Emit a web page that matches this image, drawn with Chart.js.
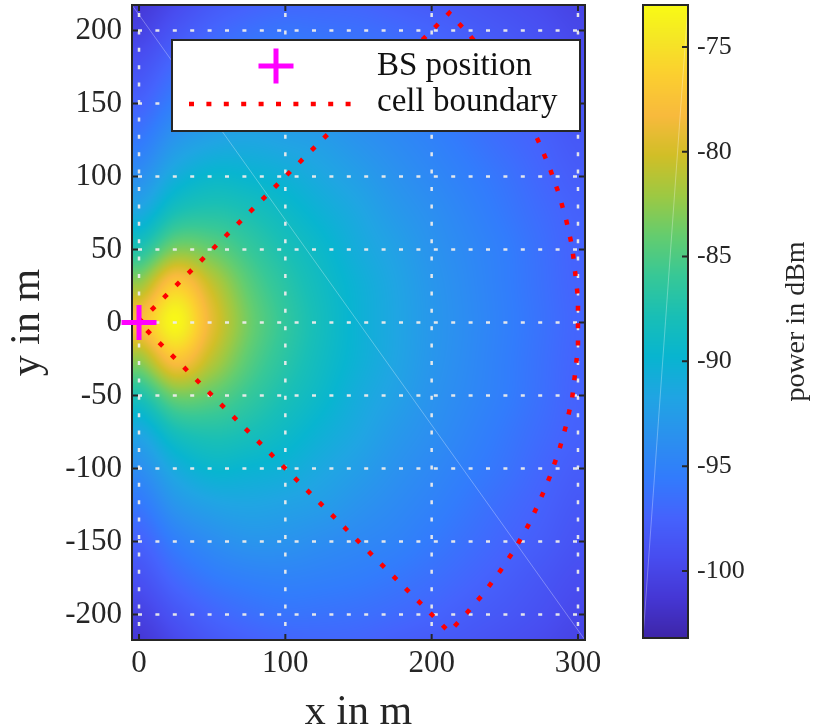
<!DOCTYPE html>
<html>
<head>
<meta charset="utf-8">
<title>BS power map</title>
<script src="https://cdn.jsdelivr.net/npm/chart.js@4.4.1/dist/chart.umd.min.js"></script>
<style>
  html, body { margin: 0; padding: 0; background: #fff; overflow: hidden; }
  #wrap { position: relative; width: 817px; height: 724px; }
  #main { position: absolute; left: 0; top: 0; }
  #cbar { position: absolute; left: 600px; top: 0; }
</style>
</head>
<body>
<div id="wrap">
  <canvas id="main" width="600" height="740"></canvas>
  <canvas id="cbar" width="217" height="740"></canvas>
</div>
<script>
// axes
const xTicks = [0, 100, 200, 300];
const yTicks = [-200, -150, -100, -50, 0, 50, 100, 150, 200];
const cbTicks = [-100, -95, -90, -85, -80, -75];
const xRange = [-4.8, 304.8];
const yRange = [-217.5, 217.5];
const powerRange = [-103.2, -73];

// BS position
const bsX = [0];
const bsY = [0];

// cell boundary
const boundaryX = [0, 212, 224, 236, 247, 257, 266, 274, 281, 287, 292, 296, 298, 300, 300,
  300, 298, 296, 292, 287, 281, 274, 266, 257, 247, 236, 224, 212, 0];
const boundaryY = [0, 212, 199, 185, 170, 155, 139, 122, 105, 88, 70, 52, 35, 17, 0,
  -17, -35, -52, -70, -88, -105, -122, -139, -155, -170, -185, -199, -212, 0];

// received power in dBm, sampled every 25 m
const gridX = [0, 25, 50, 75, 100, 125, 150, 175, 200, 225, 250, 275, 300];
const gridY = [225, 200, 175, 150, 125, 100, 75, 50, 25, 0, -25, -50, -75, -100, -125, -150, -175, -200, -225];
const power = [
  [-101.4, -99.9, -98.6, -97.9, -97.5, -97.4, -97.5, -98.0, -98.4, -98.7, -99.2, -99.7, -100.3],
  [-100.3, -98.6, -97.3, -96.5, -96.1, -96.3, -96.5, -96.9, -97.4, -98.0, -98.5, -99.1, -99.8],
  [-98.9, -96.9, -95.6, -95.0, -94.9, -95.1, -95.4, -95.9, -96.5, -97.2, -97.9, -98.6, -99.3],
  [-97.5, -95.2, -93.9, -93.2, -93.4, -93.9, -94.4, -94.9, -95.7, -96.5, -97.3, -98.0, -98.8],
  [-95.8, -93.1, -91.9, -91.6, -92.0, -92.5, -93.4, -94.2, -95.0, -95.9, -96.8, -97.6, -98.4],
  [-93.8, -90.8, -89.5, -89.8, -90.4, -91.4, -92.4, -93.5, -94.4, -95.3, -96.2, -97.2, -98.0],
  [-91.3, -87.8, -87.1, -87.8, -89.0, -90.3, -91.5, -92.8, -93.8, -94.8, -95.8, -96.8, -97.6],
  [-87.3, -83.1, -84.0, -86.0, -87.8, -89.3, -90.9, -92.1, -93.4, -94.4, -95.4, -96.5, -97.5],
  [-82.0, -76.6, -80.6, -84.4, -86.8, -88.7, -90.3, -91.7, -93.1, -94.2, -95.3, -96.4, -97.4],
  [-78.0, -73.3, -79.2, -83.6, -86.3, -88.4, -90.2, -91.6, -93.0, -94.1, -95.2, -96.3, -97.3],
  [-82.4, -77.4, -81.0, -84.5, -86.8, -88.7, -90.3, -91.7, -93.1, -94.2, -95.3, -96.4, -97.4],
  [-87.6, -83.6, -84.3, -86.1, -87.8, -89.3, -90.9, -92.1, -93.4, -94.4, -95.4, -96.5, -97.5],
  [-91.5, -88.1, -87.3, -87.9, -89.0, -90.3, -91.5, -92.8, -93.8, -94.8, -95.8, -96.8, -97.6],
  [-93.9, -91.0, -89.6, -89.9, -90.4, -91.4, -92.4, -93.5, -94.4, -95.3, -96.2, -97.2, -98.0],
  [-95.9, -93.2, -92.0, -91.7, -92.0, -92.5, -93.4, -94.2, -95.0, -95.9, -96.8, -97.6, -98.4],
  [-97.6, -95.3, -94.0, -93.3, -93.4, -93.9, -94.4, -94.9, -95.7, -96.5, -97.3, -98.0, -98.8],
  [-99.0, -97.0, -95.7, -95.1, -94.9, -95.1, -95.4, -95.9, -96.5, -97.2, -97.9, -98.6, -99.3],
  [-100.4, -98.7, -97.4, -96.6, -96.2, -96.3, -96.5, -96.9, -97.4, -98.0, -98.5, -99.1, -99.8],
  [-101.5, -100.0, -98.7, -98.0, -97.6, -97.4, -97.5, -98.0, -98.4, -98.7, -99.2, -99.7, -100.3]
];

// parula anchors: [index of 64, r, g, b]
const parula = [
  [0, 62, 38, 168], [4, 69, 55, 213], [8, 72, 77, 240], [12, 69, 99, 253],
  [16, 50, 124, 252], [20, 43, 145, 239], [24, 32, 165, 227], [28, 8, 181, 208],
  [32, 25, 191, 182], [36, 55, 200, 151], [40, 100, 205, 111], [44, 157, 201, 67],
  [48, 209, 191, 39], [52, 248, 186, 61], [56, 252, 207, 48], [60, 245, 233, 36],
  [63, 249, 251, 21]
];

const serif = "'Liberation Serif', 'DejaVu Serif', serif";
const axisColor = '#262626';

function colorAt(v) {
  let t = (v - powerRange[0]) / (powerRange[1] - powerRange[0]);
  t = Math.max(0, Math.min(1, t)) * 63;
  let k = 0;
  while (k < parula.length - 2 && parula[k + 1][0] < t) k++;
  const a = parula[k], b = parula[k + 1];
  const f = (t - a[0]) / (b[0] - a[0]);
  return [a[1] + (b[1] - a[1]) * f, a[2] + (b[2] - a[2]) * f, a[3] + (b[3] - a[3]) * f];
}

function cubic(p0, p1, p2, p3, t) {
  return p1 + 0.5 * t * (p2 - p0 + t * (2 * p0 - 5 * p1 + 4 * p2 - p3 + t * (3 * (p1 - p2) + p3 - p0)));
}

function samplePower(vx, vy) {
  const nx = gridX.length, ny = gridY.length;
  let fx = (vx - gridX[0]) / (gridX[1] - gridX[0]);
  let fy = (vy - gridY[0]) / (gridY[1] - gridY[0]);
  fx = Math.max(0, Math.min(nx - 1, fx));
  fy = Math.max(0, Math.min(ny - 1, fy));
  const i = Math.min(nx - 2, Math.floor(fx)), j = Math.min(ny - 2, Math.floor(fy));
  const tx = fx - i, ty = fy - j;
  const col = c => Math.max(0, Math.min(nx - 1, c));
  const row = r => power[Math.max(0, Math.min(ny - 1, r))];
  const rows = [];
  for (let r = j - 1; r <= j + 2; r++) {
    const p = row(r);
    rows.push(cubic(p[col(i - 1)], p[col(i)], p[col(i + 1)], p[col(i + 2)], tx));
  }
  return cubic(rows[0], rows[1], rows[2], rows[3], ty);
}

// keep chart areas where they are, no room reserved for half labels
const noEdgePadding = s => {
  s.paddingTop = 0; s.paddingBottom = 0; s.paddingLeft = 0; s.paddingRight = 0;
};

const heatmapPlugin = {
  id: 'heatmap',
  beforeDatasetsDraw(chart) {
    const { ctx, chartArea: a, scales: { x, y } } = chart;
    const left = Math.round(a.left), top = Math.round(a.top);
    const w = Math.round(a.right) - left, h = Math.round(a.bottom) - top;
    const img = ctx.createImageData(w, h);
    const xs = [];
    for (let i = 0; i < w; i++) xs.push(x.getValueForPixel(left + i + 0.5));
    for (let j = 0; j < h; j++) {
      const vy = y.getValueForPixel(top + j + 0.5);
      for (let i = 0; i < w; i++) {
        const c = colorAt(samplePower(xs[i], vy));
        const k = (j * w + i) * 4;
        img.data[k] = c[0]; img.data[k + 1] = c[1]; img.data[k + 2] = c[2]; img.data[k + 3] = 255;
      }
    }
    ctx.putImageData(img, left, top);

    ctx.save();
    // faint seam of the surface
    ctx.strokeStyle = 'rgba(255,255,255,0.3)';
    ctx.lineWidth = 1;
    ctx.beginPath();
    ctx.moveTo(a.left, a.top);
    ctx.lineTo(a.right, a.bottom);
    ctx.stroke();

    // dotted grid
    ctx.strokeStyle = 'rgba(236,236,236,0.95)';
    ctx.lineWidth = 2.5;
    ctx.setLineDash([4, 13.4]);
    xTicks.forEach(v => {
      const px = x.getPixelForValue(v);
      ctx.beginPath(); ctx.moveTo(px, a.top + 8); ctx.lineTo(px, a.bottom); ctx.stroke();
    });
    yTicks.forEach(v => {
      const py = y.getPixelForValue(v);
      ctx.beginPath(); ctx.moveTo(a.left + 6, py); ctx.lineTo(a.right, py); ctx.stroke();
    });
    ctx.setLineDash([]);

    // axes box with inward ticks
    ctx.strokeStyle = axisColor;
    ctx.lineWidth = 2;
    ctx.strokeRect(a.left, a.top, a.right - a.left, a.bottom - a.top);
    ctx.beginPath();
    xTicks.forEach(v => {
      const px = x.getPixelForValue(v);
      ctx.moveTo(px, a.bottom); ctx.lineTo(px, a.bottom - 6);
      ctx.moveTo(px, a.top); ctx.lineTo(px, a.top + 6);
    });
    yTicks.forEach(v => {
      const py = y.getPixelForValue(v);
      ctx.moveTo(a.left, py); ctx.lineTo(a.left + 6, py);
      ctx.moveTo(a.right, py); ctx.lineTo(a.right - 6, py);
    });
    ctx.stroke();
    ctx.restore();
  },
  afterDatasetsDraw(chart) {
    const ctx = chart.ctx;
    const ds = chart.data.datasets;
    ctx.save();
    ctx.fillStyle = '#fff';
    ctx.fillRect(172, 40, 408, 91);
    ctx.strokeStyle = axisColor;
    ctx.lineWidth = 2;
    ctx.strokeRect(172, 40, 408, 91);
    // BS marker
    ctx.strokeStyle = ds[0].borderColor;
    ctx.lineWidth = ds[0].borderWidth;
    ctx.beginPath();
    ctx.moveTo(276 - 17.5, 66); ctx.lineTo(276 + 17.5, 66);
    ctx.moveTo(276, 66 - 17.5); ctx.lineTo(276, 66 + 17.5);
    ctx.stroke();
    // boundary sample
    ctx.strokeStyle = ds[1].borderColor;
    ctx.lineWidth = ds[1].borderWidth;
    ctx.setLineDash(ds[1].borderDash);
    ctx.beginPath();
    ctx.moveTo(189, 104); ctx.lineTo(354, 104);
    ctx.stroke();
    ctx.setLineDash([]);
    ctx.fillStyle = '#111';
    ctx.font = '33px ' + serif;
    ctx.textBaseline = 'alphabetic';
    ctx.fillText(ds[0].label, 377, 75);
    ctx.fillText(ds[1].label, 377, 111);
    ctx.restore();
  }
};

new Chart(document.getElementById('main'), {
  type: 'scatter',
  data: {
    datasets: [
      {
        label: 'BS position',
        data: bsX.map((v, i) => ({ x: v, y: bsY[i] })),
        pointStyle: 'cross',
        pointRadius: 17.5,
        borderWidth: 5,
        borderColor: '#ff00ff',
        clip: false
      },
      {
        label: 'cell boundary',
        data: boundaryX.map((v, i) => ({ x: v, y: boundaryY[i] })),
        showLine: true,
        pointRadius: 0,
        borderColor: '#ff0000',
        borderWidth: 4.5,
        borderDash: [5, 12.4],
        borderCapStyle: 'butt'
      }
    ]
  },
  options: {
    responsive: false,
    animation: false,
    events: [],
    layout: { autoPadding: false, padding: { top: 5, right: 15, left: 0, bottom: 0 } },
    plugins: { legend: { display: false }, tooltip: { enabled: false } },
    scales: {
      x: {
        type: 'linear',
        min: xRange[0],
        max: xRange[1],
        afterBuildTicks: s => { s.ticks = xTicks.map(v => ({ value: v })); },
        afterFit: s => { s.height = 100; noEdgePadding(s); },
        grid: { display: false, drawTicks: false },
        border: { display: false },
        ticks: { font: { family: serif, size: 31 }, color: axisColor, padding: 5, maxRotation: 0,
          callback: v => String(v) },
        title: { display: true, text: 'x in m', color: axisColor,
          font: { family: serif, size: 42, lineHeight: 1 }, padding: { top: 0, bottom: 6 } }
      },
      y: {
        type: 'linear',
        min: yRange[0],
        max: yRange[1],
        afterBuildTicks: s => { s.ticks = yTicks.map(v => ({ value: v })); },
        afterFit: s => { s.width = 132; noEdgePadding(s); },
        grid: { display: false, drawTicks: false },
        border: { display: false },
        ticks: { font: { family: serif, size: 31 }, color: axisColor, padding: 10,
          callback: v => String(v) },
        title: { display: true, text: 'y in m', color: axisColor,
          font: { family: serif, size: 42, lineHeight: 1 }, padding: { top: 7, bottom: 0 } }
      }
    }
  },
  plugins: [heatmapPlugin]
});

const colorbarPlugin = {
  id: 'colorbar',
  beforeDatasetsDraw(chart) {
    const { ctx, chartArea: a, scales: { y } } = chart;
    ctx.save();
    for (let py = Math.round(a.top); py < Math.round(a.bottom); py++) {
      const c = colorAt(y.getValueForPixel(py + 0.5));
      ctx.fillStyle = `rgb(${c[0] | 0},${c[1] | 0},${c[2] | 0})`;
      ctx.fillRect(a.left, py, a.right - a.left, 1);
    }
    ctx.strokeStyle = 'rgba(255,255,255,0.3)';
    ctx.lineWidth = 1;
    ctx.beginPath();
    ctx.moveTo(a.left, a.bottom);
    ctx.lineTo(a.right, a.top);
    ctx.stroke();
    ctx.strokeStyle = axisColor;
    ctx.lineWidth = 2;
    ctx.strokeRect(a.left, a.top, a.right - a.left, a.bottom - a.top);
    ctx.beginPath();
    cbTicks.forEach(v => {
      const py = y.getPixelForValue(v);
      ctx.moveTo(a.right, py); ctx.lineTo(a.right - 6, py);
    });
    ctx.stroke();
    // colorbar label, reading bottom to top
    ctx.translate(204, (a.top + a.bottom) / 2);
    ctx.rotate(-Math.PI / 2);
    ctx.fillStyle = axisColor;
    ctx.font = '28px ' + serif;
    ctx.textAlign = 'center';
    ctx.textBaseline = 'alphabetic';
    ctx.fillText('power in dBm', 0, 0);
    ctx.restore();
  }
};

new Chart(document.getElementById('cbar'), {
  type: 'scatter',
  data: { datasets: [] },
  options: {
    responsive: false,
    animation: false,
    events: [],
    layout: { padding: { top: 5, right: 0, left: 43, bottom: 102 } },
    plugins: { legend: { display: false }, tooltip: { enabled: false } },
    scales: {
      x: { display: false, min: 0, max: 1 },
      y: {
        type: 'linear',
        position: 'right',
        min: powerRange[0],
        max: powerRange[1],
        afterBuildTicks: s => { s.ticks = cbTicks.map(v => ({ value: v })); },
        afterFit: s => { s.width = 129; noEdgePadding(s); },
        grid: { display: false, drawTicks: false },
        border: { display: false },
        ticks: { font: { family: serif, size: 26 }, color: axisColor, padding: 9,
          callback: v => String(v) }
      }
    }
  },
  plugins: [colorbarPlugin]
});
</script>
</body>
</html>
